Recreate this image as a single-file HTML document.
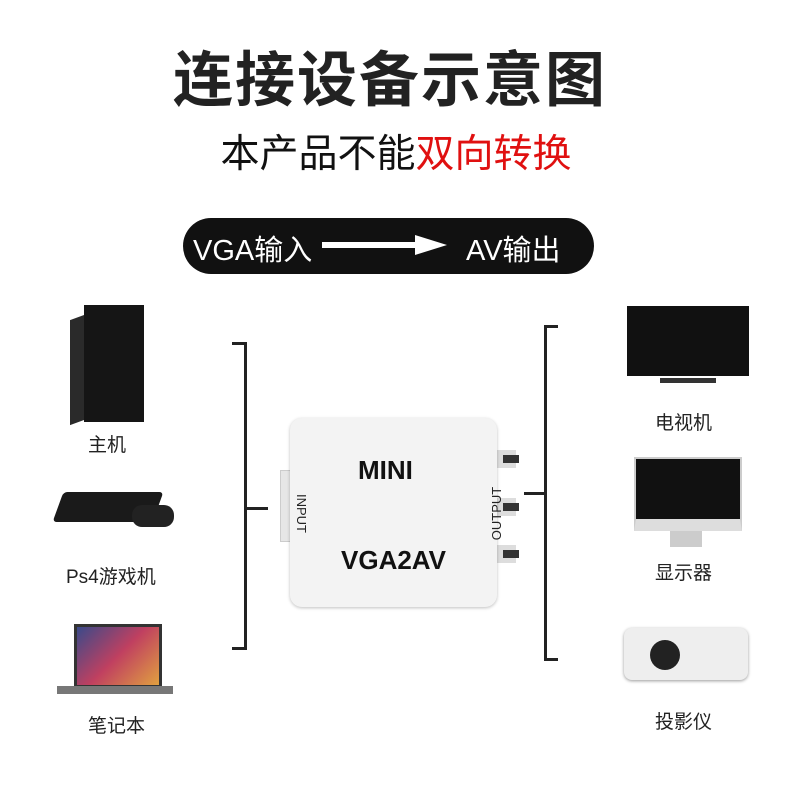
<!DOCTYPE html>
<html><head><meta charset="utf-8"><style>
body{margin:0;width:790px;height:790px;background:#fff;position:relative;overflow:hidden;font-family:"Liberation Sans","Noto Sans CJK SC",sans-serif}
.a{position:absolute}
.t{position:absolute;white-space:nowrap}
</style></head><body>
<div class="t" style="left:0;width:780px;top:32px;text-align:center;font-size:60px;font-weight:bold;color:#222;letter-spacing:2px">连接设备示意图</div>
<div class="t" style="left:0;width:792px;top:123px;text-align:center;font-size:39px;color:#111">本产品不能<span style="color:#e01010">双向转换</span></div>
<div class="a" style="left:183px;top:218px;width:411px;height:56px;background:#111;border-radius:28px"></div>
<div class="t" style="left:193px;top:227px;font-size:29px;color:#fff">VGA输入</div>
<div class="a" style="left:322px;top:242px;width:95px;height:6px;background:#fff"></div>
<div class="a" style="left:415px;top:235px;width:0;height:0;border-left:32px solid #fff;border-top:10px solid transparent;border-bottom:10px solid transparent"></div>
<div class="t" style="left:466px;top:227px;font-size:29px;color:#fff">AV输出</div>

<div class="a" style="left:244px;top:342px;width:3px;height:308px;background:#222"></div>
<div class="a" style="left:232px;top:342px;width:14px;height:3px;background:#222"></div>
<div class="a" style="left:232px;top:647px;width:14px;height:3px;background:#222"></div>
<div class="a" style="left:244px;top:507px;width:24px;height:3px;background:#222"></div>
<div class="a" style="left:544px;top:325px;width:3px;height:336px;background:#222"></div>
<div class="a" style="left:544px;top:325px;width:14px;height:3px;background:#222"></div>
<div class="a" style="left:544px;top:658px;width:14px;height:3px;background:#222"></div>
<div class="a" style="left:524px;top:492px;width:22px;height:3px;background:#222"></div>

<div class="a" style="left:280px;top:470px;width:14px;height:70px;background:#e6e6e6;border:1px solid #ccc"></div>
<div class="a" style="left:496px;top:450px;width:20px;height:18px;background:#ddd"></div>
<div class="a" style="left:503px;top:455px;width:16px;height:8px;background:#333"></div>
<div class="a" style="left:496px;top:498px;width:20px;height:18px;background:#ddd"></div>
<div class="a" style="left:503px;top:503px;width:16px;height:8px;background:#333"></div>
<div class="a" style="left:496px;top:545px;width:20px;height:18px;background:#ddd"></div>
<div class="a" style="left:503px;top:550px;width:16px;height:8px;background:#333"></div>
<div class="a" style="left:290px;top:418px;width:207px;height:189px;background:#f3f3f3;border-radius:12px;box-shadow:0 1px 3px rgba(0,0,0,.25)"></div>
<div class="t" style="left:358px;top:455px;font-size:26px;font-weight:bold;color:#111">MINI</div>
<div class="t" style="left:341px;top:545px;font-size:26px;font-weight:bold;color:#111">VGA2AV</div>
<div class="t" style="left:282px;top:506px;font-size:13px;color:#222;transform:rotate(90deg)">INPUT</div>
<div class="t" style="left:470px;top:506px;font-size:13px;color:#222;transform:rotate(-90deg)">OUTPUT</div>

<div class="a" style="left:70px;top:315px;width:14px;height:105px;background:#2a2a2a;transform:skewY(-20deg);transform-origin:right top"></div>
<div class="a" style="left:84px;top:305px;width:60px;height:117px;background:#151515"></div>
<div class="t" style="left:88px;top:430px;font-size:19px;color:#222">主机</div>
<div class="a" style="left:58px;top:492px;width:100px;height:30px;background:#1a1a1a;border-radius:4px;transform:skewX(-20deg)"></div>
<div class="a" style="left:132px;top:505px;width:42px;height:22px;background:#222;border-radius:10px"></div>
<div class="t" style="left:66px;top:562px;font-size:19px;color:#222">Ps4游戏机</div>
<div class="a" style="left:74px;top:624px;width:82px;height:58px;background:linear-gradient(135deg,#3a4a8a,#c04060,#e0a040);border:3px solid #333"></div>
<div class="a" style="left:57px;top:686px;width:116px;height:8px;background:#777"></div>
<div class="t" style="left:88px;top:711px;font-size:19px;color:#222">笔记本</div>

<div class="a" style="left:627px;top:306px;width:122px;height:70px;background:#111"></div>
<div class="a" style="left:660px;top:378px;width:56px;height:5px;background:#333"></div>
<div class="t" style="left:655px;top:408px;font-size:19px;color:#222">电视机</div>
<div class="a" style="left:634px;top:457px;width:104px;height:60px;background:#111;border:2px solid #ccc;border-bottom:12px solid #ddd"></div>
<div class="a" style="left:670px;top:531px;width:32px;height:16px;background:#ccc"></div>
<div class="t" style="left:655px;top:558px;font-size:19px;color:#222">显示器</div>
<div class="a" style="left:624px;top:628px;width:124px;height:52px;background:#eee;border-radius:8px;box-shadow:0 1px 3px rgba(0,0,0,.4)"></div>
<div class="a" style="left:650px;top:640px;width:30px;height:30px;background:#222;border-radius:50%"></div>
<div class="t" style="left:655px;top:707px;font-size:19px;color:#222">投影仪</div>
</body></html>
